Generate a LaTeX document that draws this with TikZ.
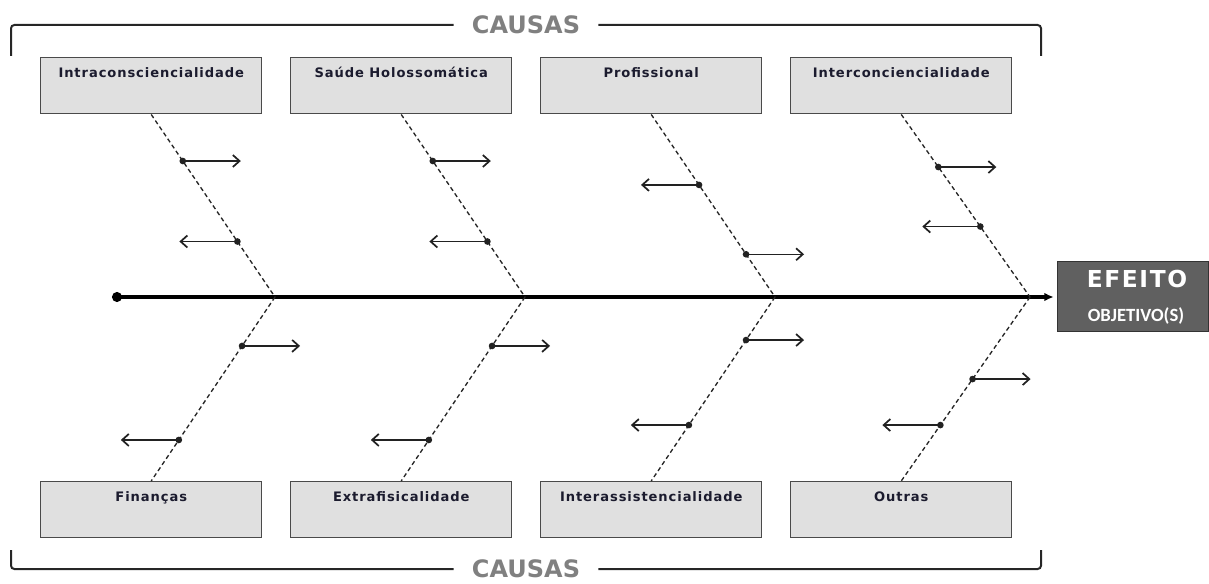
\documentclass[tikz,border=0pt]{standalone}
\usepackage{fontspec}
\setmainfont{DejaVu Sans}
\newfontfamily\lblfont[LetterSpace=7]{DejaVu Sans}
\newfontfamily\efffont[LetterSpace=7]{DejaVu Sans}
\newfontfamily\causefont{DejaVu Sans}
\newfontfamily\carlfont{Carlito}
\usetikzlibrary{arrows.meta,calc}
\definecolor{boxfill}{HTML}{E0E0E0}
\definecolor{boxline}{HTML}{4A4A4A}
\definecolor{efffill}{HTML}{606060}
\definecolor{effline}{HTML}{333333}
\definecolor{causegray}{HTML}{808080}
\definecolor{labelcol}{HTML}{1B1B2E}
\definecolor{arrowgray}{HTML}{222222}
\newcommand\subcause[5]{%
  \path (#1) -- (#2) coordinate[pos=#3] (#5d);
  \coordinate (#5e) at ($(#5d)+(#4,0)$);
  \draw[subarrow] (#5d) -- (#5e);
  \fill[arrowgray] (#5d) circle (2.5pt);
}
\begin{document}
\begin{tikzpicture}[x=0.75pt,y=-0.75pt,
  causebox/.style={draw=boxline, fill=boxfill, line width=1.1pt,
    minimum width=165.75pt, text height=15pt, text depth=27pt,
    inner ysep=0pt, inner xsep=0pt, anchor=north west,
    font=\lblfont\bfseries\fontsize{9.8pt}{11pt}\selectfont, text=labelcol},
  effbox/.style={draw=effline, fill=efffill, line width=1.1pt,
    minimum width=113pt, minimum height=52.5pt, inner sep=0pt, anchor=north west},
  causelbl/.style={font=\causefont\bfseries\fontsize{18pt}{20pt}\selectfont,
    text=causegray, inner xsep=13.5pt, inner ysep=0pt},
  bracket/.style={draw=black!85, line width=1.5pt, rounded corners=2.5pt},
  bone/.style={draw=black!85, line width=1pt, dash pattern=on 3.2pt off 2.3pt},
  spine/.style={draw=black, line width=2.3pt, -{Latex[length=7pt,width=6.5pt]}, shorten >=2.5pt},
  subarrow/.style={draw=arrowgray, line width=1.15pt, -{Straight Barb[length=5pt,width=9pt,line width=1.3pt]}}
]
\useasboundingbox (0,0) rectangle (1209,584);

% brackets and CAUSAS labels
\node[causelbl] (ctop) at (526,25) {CAUSAS};
\node[causelbl] (cbot) at (526,569) {CAUSAS};
\draw[bracket] (11,56) |- (ctop.west);
\draw[bracket] (ctop.east) -| (1041,56);
\draw[bracket] (11,550) |- (cbot.west);
\draw[bracket] (cbot.east) -| (1041,550);

% top boxes
\node[causebox] (t1) at (40,57) {Intraconsciencialidade};
\node[causebox] (t2) at (290,57) {Saúde Holossomática};
\node[causebox] (t3) at (540,57) {Profissional};
\node[causebox] (t4) at (790,57) {Interconciencialidade};
% bottom boxes
\node[causebox] (b1) at (40,481) {Finanças};
\node[causebox] (b2) at (290,481) {Extrafisicalidade};
\node[causebox] (b3) at (540,481) {Interassistencialidade};
\node[causebox] (b4) at (790,481) {Outras};

% effect box
\node[effbox] (eff) at (1057,261) {};
\node[anchor=base, text=white, font=\efffont\bfseries\fontsize{17.5pt}{19pt}\selectfont, inner sep=0pt] (efftxt) at (1137,288) {EFEITO};
\node[anchor=base, text=white, font=\carlfont\bfseries\fontsize{14pt}{16pt}\selectfont, inner sep=0pt] (objtxt) at (1136,321) {OBJETIVO(S)};

% spine
\coordinate (s0) at (117,297);
\coordinate (j1) at (275,297);
\coordinate (j2) at (525,297);
\coordinate (j3) at (775,297);
\coordinate (j4) at (1030,297);
\draw[spine] (s0) -- (eff.west |- s0);
\fill[black] (s0) circle (3.8pt);

% bones
\draw[bone] (t1.south) -- (j1);
\draw[bone] (t2.south) -- (j2);
\draw[bone] (t3.south) -- (j3);
\draw[bone] (t4.south) -- (j4);
\draw[bone] (j1) -- (b1.north);
\draw[bone] (j2) -- (b2.north);
\draw[bone] (j3) -- (b3.north);
\draw[bone] (j4) -- (b4.north);

% sub-cause arrows
\subcause{t1.south}{j1}{0.255}{58}{ta}
\subcause{t1.south}{j1}{0.696}{-58}{tb}
\subcause{t2.south}{j2}{0.255}{58}{tc}
\subcause{t2.south}{j2}{0.696}{-58}{td}
\subcause{t3.south}{j3}{0.386}{-58}{te}
\subcause{t3.south}{j3}{0.766}{58}{tf}
\subcause{t4.south}{j4}{0.288}{58}{tg}
\subcause{t4.south}{j4}{0.614}{-58}{th}
\subcause{j1}{b1.north}{0.266}{58}{ba}
\subcause{j1}{b1.north}{0.777}{-58}{bb}
\subcause{j2}{b2.north}{0.266}{58}{bc}
\subcause{j2}{b2.north}{0.777}{-58}{bd}
\subcause{j3}{b3.north}{0.234}{58}{be}
\subcause{j3}{b3.north}{0.696}{-58}{bf}
\subcause{j4}{b4.north}{0.446}{58}{bg}
\subcause{j4}{b4.north}{0.696}{-58}{bh}
\end{tikzpicture}
\end{document}
